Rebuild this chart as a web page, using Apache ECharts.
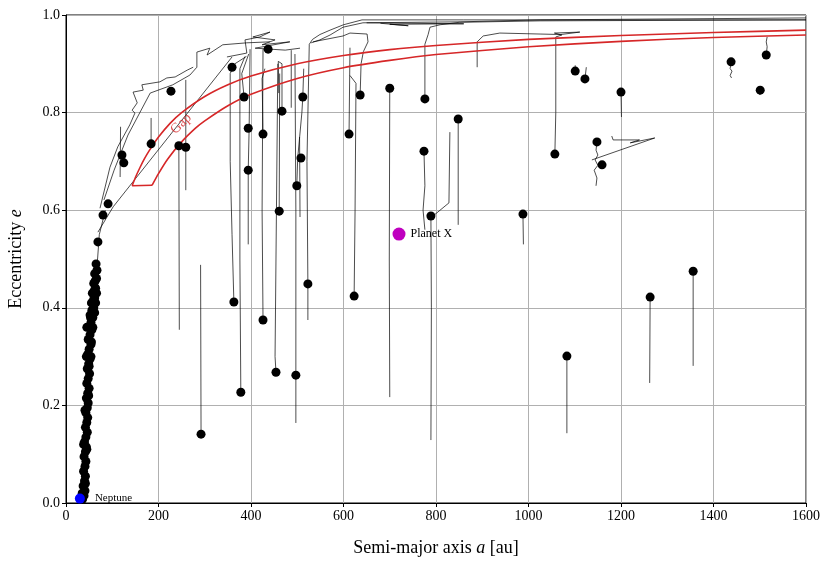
<!DOCTYPE html>
<html>
<head>
<meta charset="utf-8">
<script src="https://cdn.jsdelivr.net/npm/echarts@6/dist/echarts.min.js"></script>
<style>
  html, body { margin: 0; padding: 0; background: #fff; }
  #chart { width: 830px; height: 565px; }
</style>
</head>
<body>
<div id="chart"></div>
<script>
// axis ticks
var xTicks = [0, 200, 400, 600, 800, 1000, 1200, 1400, 1600];
var yTicks = [0.0, 0.2, 0.4, 0.6, 0.8, 1.0];

// final positions of the objects [a (au), e]
var objects = [
  [121, 0.713], [125, 0.697], [184, 0.736], [227, 0.844], [244, 0.732],
  [259, 0.729], [292, 0.141], [359, 0.893], [363, 0.412], [378, 0.227],
  [385, 0.832], [394, 0.768], [394, 0.682], [426, 0.756], [426, 0.375],
  [437, 0.930], [454, 0.268], [461, 0.598], [467, 0.803], [497, 0.262],
  [499, 0.650], [508, 0.707], [512, 0.832], [523, 0.449], [612, 0.756],
  [623, 0.424], [636, 0.836], [700, 0.850], [776, 0.828], [774, 0.721],
  [789, 0.588], [848, 0.787], [988, 0.592], [1057, 0.715], [1083, 0.301],
  [1101, 0.885], [1122, 0.869], [1148, 0.740], [1159, 0.693], [1200, 0.842],
  [1263, 0.422], [1356, 0.475], [1438, 0.904], [1501, 0.846], [1514, 0.918]
];

// objects that stay close to Neptune's perihelion
var scattered = [
  [36, 0.008], [39, 0.015], [41, 0.025], [37, 0.035], [40, 0.045], [42, 0.055],
  [38, 0.065], [41, 0.075], [43, 0.085], [39, 0.095], [42, 0.105], [44, 0.115],
  [40, 0.125], [43, 0.135], [46, 0.145], [42, 0.155], [45, 0.165], [47, 0.175],
  [43, 0.185], [46, 0.195], [48, 0.205], [44, 0.215], [47, 0.225], [50, 0.235],
  [45, 0.245], [48, 0.255], [51, 0.265], [46, 0.275], [49, 0.285], [52, 0.295],
  [47, 0.305], [50, 0.315], [54, 0.325], [48, 0.335], [52, 0.345], [56, 0.355],
  [45, 0.360], [50, 0.360], [54, 0.370], [58, 0.380], [52, 0.385], [56, 0.395],
  [60, 0.400], [55, 0.410], [59, 0.415], [62, 0.420], [57, 0.430], [61, 0.435],
  [64, 0.440], [60, 0.450], [63, 0.455], [66, 0.460], [62, 0.470], [67, 0.477],
  [65, 0.490], [69, 0.535], [80, 0.590], [91, 0.613],
  [35, 0.020], [42, 0.040], [38, 0.120], [45, 0.110], [41, 0.190], [49, 0.220],
  [50, 0.280], [54, 0.300], [44, 0.300], [55, 0.330], [58, 0.360], [53, 0.380],
  [62, 0.390], [64, 0.410], [66, 0.430]
];

var neptune = [[30, 0.009]];
var planetX = [[720, 0.551]];

// orbital evolution tracks [a, e]
var trails = [
  [[38, 0.0], [42, 0.1], [46, 0.2], [50, 0.3], [58, 0.4], [66, 0.47], [72, 0.55], [85, 0.6]],
  [[73.5, 0.604], [95, 0.688], [112, 0.730], [138, 0.775], [149, 0.799], [143, 0.805], [154, 0.820],
   [145, 0.842], [167, 0.846], [164, 0.857], [203, 0.863], [218, 0.871], [236, 0.873], [262, 0.887], [275, 0.893]],
  [[82, 0.621], [104, 0.682], [121, 0.723], [134, 0.754], [182, 0.840], [231, 0.857], [268, 0.877],
   [283, 0.893], [283, 0.924], [311, 0.932], [305, 0.918], [339, 0.939], [391, 0.943], [441, 0.945]],
  [[348, 0.914], [391, 0.922], [387, 0.949], [419, 0.955], [441, 0.965], [404, 0.955], [452, 0.949],
   [424, 0.939], [484, 0.945], [409, 0.932], [474, 0.928], [506, 0.932]],
  [[69, 0.555], [102, 0.607], [230, 0.76], [359, 0.914]],
  [[117, 0.668], [118, 0.771]],
  [[184, 0.736], [184, 0.789]],
  [[244, 0.732], [245, 0.355]],
  [[259, 0.641], [259, 0.867]],
  [[292, 0.141], [291, 0.488]],
  [[363, 0.412], [359, 0.55], [355, 0.70], [355, 0.88], [365, 0.90], [390, 0.915]],
  [[378, 0.227], [376, 0.5], [376, 0.89], [387, 0.915]],
  [[385, 0.832], [380, 0.88], [395, 0.92]],
  [[394, 0.53], [394, 0.682], [396, 0.768], [398, 0.93]],
  [[426, 0.756], [424, 0.87], [430, 0.89]],
  [[426, 0.375], [424, 0.6], [426, 0.93]],
  [[454, 0.268], [452, 0.3], [455, 0.6], [458, 0.9]],
  [[461, 0.598], [462, 0.88]],
  [[467, 0.803], [467, 0.9], [459, 0.905], [460, 0.84]],
  [[487, 0.928], [487, 0.81]],
  [[497, 0.164], [497, 0.262], [497, 0.6], [495, 0.92]],
  [[499, 0.65], [501, 0.707], [510, 0.8], [512, 0.832], [514, 0.89]],
  [[506, 0.586], [505, 0.75]],
  [[523, 0.375], [523, 0.449], [521, 0.7], [526, 0.94], [533, 0.95], [549, 0.96], [571, 0.969],
   [600, 0.98], [640, 0.99], [860, 0.99], [1025, 0.99], [1600, 0.99]],
  [[530, 0.943], [549, 0.949], [571, 0.959], [599, 0.975], [642, 0.984], [852, 0.986], [1025, 0.990], [1600, 0.994]],
  [[650, 0.984], [860, 0.982], [700, 0.981], [740, 0.978], [680, 0.983]],
  [[612, 0.756], [614, 0.933]],
  [[623, 0.424], [625, 0.6], [627, 0.86], [614, 0.876]],
  [[636, 0.836], [638, 0.9], [643, 0.925], [653, 0.945], [651, 0.961], [614, 0.963], [599, 0.957], [534, 0.945]],
  [[700, 0.85], [699, 0.5], [700, 0.217]],
  [[776, 0.828], [776, 0.94], [783, 0.96], [787, 0.975], [809, 0.98], [850, 0.985], [1025, 0.988], [1600, 0.99]],
  [[774, 0.721], [776, 0.65], [772, 0.6], [776, 0.56]],
  [[789, 0.588], [790, 0.4], [789, 0.129]],
  [[787, 0.583], [828, 0.615], [830, 0.76]],
  [[848, 0.787], [848, 0.57]],
  [[988, 0.592], [989, 0.53]],
  [[1057, 0.715], [1059, 0.8], [1059, 0.955], [1072, 0.959], [1056, 0.963], [1111, 0.965], [1070, 0.96],
   [1025, 0.961], [938, 0.963], [902, 0.957], [889, 0.945], [889, 0.893]],
  [[1083, 0.301], [1083, 0.143]],
  [[1101, 0.885], [1101, 0.897]],
  [[1122, 0.869], [1125, 0.893]],
  [[1148, 0.740], [1146, 0.723], [1150, 0.713], [1144, 0.703], [1150, 0.692], [1142, 0.682], [1148, 0.666], [1146, 0.650]],
  [[1137, 0.703], [1273, 0.748], [1220, 0.738], [1240, 0.744], [1183, 0.744], [1180, 0.752]],
  [[1200, 0.842], [1201, 0.791]],
  [[1263, 0.422], [1262, 0.246]],
  [[1356, 0.475], [1356, 0.281]],
  [[1438, 0.904], [1436, 0.89], [1440, 0.885], [1436, 0.876], [1439, 0.871]],
  [[1501, 0.846], [1500, 0.836]],
  [[1514, 0.918], [1516, 0.935], [1514, 0.945], [1516, 0.955]]
];

// gap boundaries (perihelion ~50 au and ~65 au)
var gapUpper = [
  [143, 0.650], [150, 0.667], [160, 0.6875], [170, 0.706], [180, 0.722], [200, 0.750],
  [225, 0.778], [250, 0.800], [300, 0.833], [350, 0.857], [400, 0.875], [500, 0.900],
  [600, 0.917], [700, 0.929], [800, 0.9375], [1000, 0.950], [1200, 0.958], [1400, 0.964], [1600, 0.969]
];
var gapLower = [
  [186, 0.651], [200, 0.675], [220, 0.705], [250, 0.740], [280, 0.768], [300, 0.783],
  [350, 0.814], [400, 0.8375], [500, 0.870], [600, 0.892], [700, 0.907], [800, 0.919],
  [1000, 0.935], [1200, 0.946], [1400, 0.954], [1600, 0.959]
];
var gapBase = [[143, 0.650], [186, 0.651]];
var gapLabel = [[249, 0.777]];

var serif = 'Liberation Serif';
var myChart = echarts.init(document.getElementById('chart'), null, { renderer: 'canvas' });

var series = [];
trails.forEach(function (t) {
  series.push({
    type: 'line',
    data: t,
    symbol: 'none',
    silent: true,
    z: 1,
    lineStyle: { color: '#000', width: 0.7, opacity: 1 }
  });
});

[gapUpper, gapLower, gapBase].forEach(function (g) {
  series.push({
    type: 'line',
    data: g,
    symbol: 'none',
    smooth: 0.2,
    z: 3,
    lineStyle: { color: '#d62728', width: 1.6 }
  });
});

series.push({
  type: 'scatter',
  data: gapLabel,
  symbolSize: 0,
  z: 4,
  label: {
    show: true,
    formatter: 'Gap',
    position: 'inside',
    rotate: 44,
    color: '#d62728',
    fontFamily: serif,
    fontSize: 14
  }
});

series.push({
  type: 'scatter',
  data: scattered.concat(objects),
  symbolSize: 9,
  z: 5,
  itemStyle: { color: '#000', opacity: 1 }
});

series.push({
  type: 'scatter',
  data: neptune,
  symbolSize: 10,
  z: 6,
  itemStyle: { color: '#0000ff', opacity: 1 },
  label: {
    show: true, formatter: 'Neptune', position: 'right', distance: 10,
    color: '#000', fontFamily: serif, fontSize: 11
  }
});

series.push({
  type: 'scatter',
  data: planetX,
  symbolSize: 13,
  z: 6,
  itemStyle: { color: '#bf00bf', opacity: 1 },
  label: {
    show: true, formatter: 'Planet X', position: 'right', distance: 5,
    color: '#000', fontFamily: serif, fontSize: 12
  }
});

var option = {
  animation: false,
  backgroundColor: '#fff',
  grid: {
    left: 66, right: 24, top: 15, bottom: 62,
    containLabel: false, outerBoundsMode: 'none',
    show: true, borderColor: '#000', borderWidth: 1, backgroundColor: 'transparent'
  },
  xAxis: {
    type: 'value',
    min: xTicks[0], max: xTicks[xTicks.length - 1], interval: 200,
    name: 'Semi-major axis {i|a} [au]',
    nameLocation: 'middle', nameGap: 36,
    nameTextStyle: {
      color: '#000', fontFamily: serif, fontSize: 18,
      rich: { i: { fontStyle: 'italic', fontFamily: serif, fontSize: 18, color: '#000' } }
    },
    axisLine: { show: true, lineStyle: { color: '#000', width: 1 } },
    axisTick: { show: true, length: 4, lineStyle: { color: '#000' } },
    axisLabel: {
      color: '#000', fontFamily: serif, fontSize: 14, margin: 6,
      formatter: function (v) { return String(v); }
    },
    splitLine: { show: true, lineStyle: { color: '#b0b0b0', width: 1 } }
  },
  yAxis: {
    type: 'value',
    min: yTicks[0], max: yTicks[yTicks.length - 1], interval: 0.2,
    name: 'Eccentricity {i|e}',
    nameLocation: 'middle', nameGap: 41, nameRotate: 90,
    nameTextStyle: {
      color: '#000', fontFamily: serif, fontSize: 18,
      rich: { i: { fontStyle: 'italic', fontFamily: serif, fontSize: 18, color: '#000' } }
    },
    axisLine: { show: true, lineStyle: { color: '#000', width: 1 } },
    axisTick: { show: true, length: 4, lineStyle: { color: '#000' } },
    axisLabel: {
      color: '#000', fontFamily: serif, fontSize: 14, margin: 6,
      formatter: function (v) { return v.toFixed(1); }
    },
    splitLine: { show: true, lineStyle: { color: '#b0b0b0', width: 1 } }
  },
  series: series
};

myChart.setOption(option);
</script>
</body>
</html>
